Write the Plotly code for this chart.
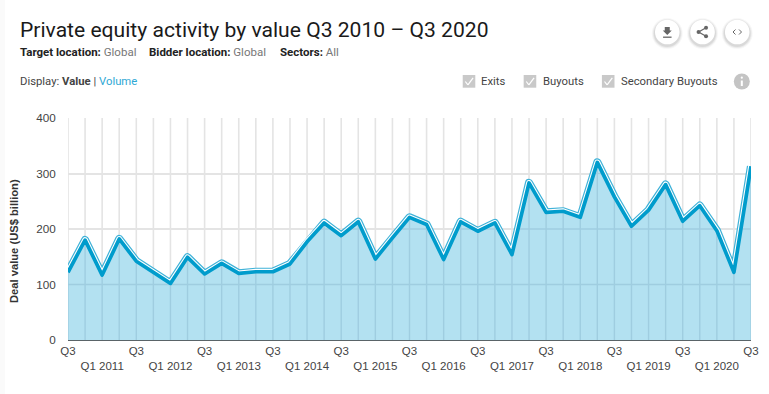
import plotly.graph_objects as go

W, H = 769, 394
L, R, T, B = 68, 751.5, 118, 340

quarters = ["Q3 2010", "Q4 2010", "Q1 2011", "Q2 2011", "Q3 2011", "Q4 2011", "Q1 2012", "Q2 2012", "Q3 2012", "Q4 2012",
            "Q1 2013", "Q2 2013", "Q3 2013", "Q4 2013", "Q1 2014", "Q2 2014", "Q3 2014", "Q4 2014", "Q1 2015", "Q2 2015",
            "Q3 2015", "Q4 2015", "Q1 2016", "Q2 2016", "Q3 2016", "Q4 2016", "Q1 2017", "Q2 2017", "Q3 2017", "Q4 2017",
            "Q1 2018", "Q2 2018", "Q3 2018", "Q4 2018", "Q1 2019", "Q2 2019", "Q3 2019", "Q4 2019", "Q1 2020", "Q2 2020",
            "Q3 2020"]
deal_value = [122, 180, 117, 182, 142, 121, 102, 149, 119, 138, 120, 123, 123, 137, 177, 211, 188, 213, 146, 184, 221,
              208, 145, 213, 196, 211, 154, 283, 230, 232, 221, 320, 258, 205, 234, 280, 214, 242, 197, 122, 313]
tick_labels = ["Q3", "<br>Q1 2011", "Q3", "<br>Q1 2012", "Q3", "<br>Q1 2013", "Q3", "<br>Q1 2014", "Q3", "<br>Q1 2015",
               "Q3", "<br>Q1 2016", "Q3", "<br>Q1 2017", "Q3", "<br>Q1 2018", "Q3", "<br>Q1 2019", "Q3", "<br>Q1 2020", "Q3"]
y_ticks = [0, 100, 200, 300, 400]

BLUE = "#009ccc"
HALO = "#3fb2d8"
FILL = "#b3e1f1"
GRID = "#e4e4e4"
GRID_IN_FILL = "#9fcde0"
FONT = "Roboto"
AXIS_FONT = "Liberation Sans"

xs = list(range(len(quarters)))


def px(x):
    return (x - L) / (R - L)


def py(y):
    return (B - y) / (B - T)


def under_curve_segments(level):
    """Parts of a horizontal gridline that lie under the curve."""
    sx, sy = [], []
    inside = False
    for i in range(len(xs) - 1):
        a, b = deal_value[i], deal_value[i + 1]
        if i == 0 and a > level:
            sx.append(xs[0])
            sy.append(level)
            inside = True
        if (a > level) != (b > level):
            cross = xs[i] + (level - a) / (b - a)
            sx.append(cross)
            sy.append(level)
            if inside:
                sx.append(None)
                sy.append(None)
            inside = not inside
    if inside:
        sx.append(xs[-1])
        sy.append(level)
    return sx, sy


fig = go.Figure()
# outline of the curve: the fill drawn next hides its lower half
fig.add_trace(go.Scatter(x=xs, y=deal_value, text=quarters, mode="lines", hoverinfo="skip",
                         line=dict(color=HALO, width=8.2)))
fig.add_trace(go.Scatter(x=xs, y=deal_value, mode="lines", hoverinfo="skip", line=dict(color="#ffffff", width=5.8)))
fig.add_trace(go.Scatter(x=xs, y=deal_value, mode="lines", hoverinfo="skip", fill="tozeroy", fillcolor=FILL,
                         line=dict(color=FILL, width=0.1)))
# gridlines seen through the fill
gx, gy = [], []
for x, v in zip(xs, deal_value):
    gx += [x, x, None]
    gy += [0, v, None]
for lv in y_ticks[1:-1]:
    a, b = under_curve_segments(lv)
    gx += a + [None]
    gy += b + [None]
fig.add_trace(go.Scatter(x=gx, y=gy, mode="lines", hoverinfo="skip", line=dict(color=GRID_IN_FILL, width=1.4)))
fig.add_trace(go.Scatter(x=xs, y=deal_value, text=quarters, mode="lines", hoverinfo="text",
                         line=dict(color=BLUE, width=3.7)))

shapes = []
shapes.append(dict(type="rect", xref="paper", yref="paper", x0=px(0), x1=px(5), y0=py(0), y1=py(H),
                   fillcolor="#fafafa", line_width=0, layer="below"))


def circle(cx, cy, r, color):
    return dict(type="circle", xref="paper", yref="paper", x0=px(cx - r), x1=px(cx + r), y0=py(cy + r), y1=py(cy - r),
                fillcolor=color, line_width=0)


def path(points, color):
    d = "M " + " L ".join(f"{px(a):.5f},{py(b):.5f}" for a, b in points) + " Z"
    return dict(type="path", xref="paper", yref="paper", path=d, fillcolor=color, line_width=0)


def stroke(x0, y0, x1, y1, color, w):
    return dict(type="line", xref="paper", yref="paper", x0=px(x0), x1=px(x1), y0=py(y0), y1=py(y1),
                line=dict(color=color, width=w))


ICON = "#666666"
for cx in (667.7, 703, 737.7):
    for r, a in ((15.5, 0.03), (14.5, 0.05), (13.5, 0.07)):
        shapes.append(circle(cx, 33.5, r, f"rgba(0,0,0,{a})"))
    shapes.append(circle(cx, 32, 12.3, "#ffffff"))
shapes.append(path([(665.2, 27), (670.2, 27), (670.2, 30.5), (672.2, 30.5), (667.7, 35), (663.2, 30.5), (665.2, 30.5)], ICON))
shapes.append(stroke(663.5, 37.2, 672, 37.2, ICON, 1.3))
shapes.append(stroke(699, 32, 706.5, 27.8, ICON, 1.3))
shapes.append(stroke(699, 32, 706.5, 36.2, ICON, 1.3))
for cx, cy in ((699, 32), (706.5, 27.8), (706.5, 36.2)):
    shapes.append(circle(cx, cy, 2, ICON))
shapes.append(stroke(736, 29.5, 733.5, 32, ICON, 1))
shapes.append(stroke(733.5, 32, 736, 34.5, ICON, 1))
shapes.append(stroke(739.5, 29.5, 742, 32, ICON, 1))
shapes.append(stroke(742, 32, 739.5, 34.5, ICON, 1))
for x0 in (463, 524, 602.3):
    shapes.append(dict(type="rect", xref="paper", yref="paper", x0=px(x0), x1=px(x0 + 12.6), y0=py(87.7), y1=py(75),
                       fillcolor="#c9c9c9", line_width=0))
    shapes.append(stroke(x0 + 2.6, 81.5, x0 + 5.2, 84.8, "#ffffff", 1.2))
    shapes.append(stroke(x0 + 5.2, 84.8, x0 + 10.4, 77.8, "#ffffff", 1.2))
shapes.append(circle(742.3, 81.5, 8, "#c4c4c4"))
shapes.append(stroke(742.3, 80.5, 742.3, 86, "#ffffff", 2))
shapes.append(circle(742.3, 77.7, 1.1, "#ffffff"))
for x in xs:
    shapes.append(dict(type="line", xref="x", yref="paper", x0=x, x1=x, y0=0, y1=1,
                       line=dict(color=GRID, width=1.6), layer="below"))

annotations = []


def text(x, y, s, size, color="#333333", anchor="left", angle=0, family=FONT):
    annotations.append(dict(x=px(x), y=py(y), xref="paper", yref="paper", text=s, showarrow=False, xanchor=anchor,
                            yanchor="middle", font=dict(family=family, size=size, color=color), textangle=angle))


text(17.5, 29.5, "Private equity activity by value Q3 2010 – Q3 2020", 21.1, "#1a1a1a")
text(17.5, 51.5, "<b>Target location:</b> <span style='color:#777777'>Global</span>", 11.5, "#222222")
text(147, 51.5, "<b>Bidder location:</b> <span style='color:#777777'>Global</span>", 11.5, "#222222")
text(278, 51.5, "<b>Sectors:</b> <span style='color:#777777'>All</span>", 11.5, "#222222")
text(17.5, 81.5, "Display: <b>Value</b> | <span style='color:#2fa8d5'>Volume</span>", 11.3, "#444444")
text(479, 81.5, "Exits", 11.3, "#444444")
text(541, 81.5, "Buyouts", 11.3, "#444444")
text(619, 81.5, "Secondary Buyouts", 11.3, "#444444")
text(14, 241, "<b>Deal value (US$ billion)</b>", 11.2, "#333333", "center", -90, AXIS_FONT)

fig.update_layout(
    width=W, height=H, autosize=False, showlegend=False, plot_bgcolor="rgba(0,0,0,0)", paper_bgcolor="#ffffff",
    margin=dict(l=L, r=W - R, t=T, b=H - B), shapes=shapes, annotations=annotations,
    font=dict(family=AXIS_FONT, color="#444444"),
    xaxis=dict(range=[xs[0], xs[-1]], tickmode="array", tickvals=xs[::2], ticktext=tick_labels, showgrid=False,
               ticks="", showline=True, linecolor="#5a6468", linewidth=1.2, tickfont=dict(size=11.5, color="#444444"),
               tickangle=0, automargin=False, zeroline=False, layer="above traces"),
    yaxis=dict(range=[0, 400], tickvals=y_ticks, gridcolor=GRID, gridwidth=1.6, ticks="outside", ticklen=9,
               tickcolor="rgba(0,0,0,0)", zeroline=False, tickfont=dict(size=11.7, color="#444444"), automargin=False,
               showline=False),
)

fig.write_html("out.html", config=dict(displayModeBar=False),
               post_script="document.body.style.margin='0';document.documentElement.style.overflow='hidden';"
                           "document.querySelectorAll('.js-line').forEach(function(p){p.style.strokeLinejoin='round';});")
